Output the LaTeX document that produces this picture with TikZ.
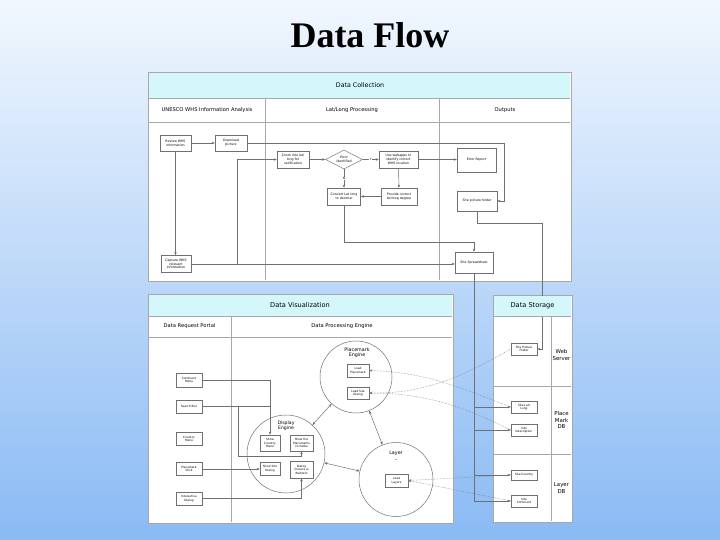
\documentclass[tikz,border=0pt]{standalone}
\usepackage{fontspec}
\setmainfont{Liberation Serif}
\newfontfamily\dfont{DejaVu Sans}
\usetikzlibrary{arrows.meta,shapes.geometric}
\definecolor{hdr}{HTML}{D3F7FA}
\definecolor{ln}{HTML}{707070}
\definecolor{frm}{HTML}{A8A8A8}
\definecolor{bgtop}{HTML}{F1F7FE}
\definecolor{bgbot}{HTML}{8ABAF4}
\begin{document}
\begin{tikzpicture}[x=1pt,y=-1pt,
  panel/.style={draw=frm, line width=0.7pt, fill=white},
  grid/.style={draw=frm, line width=0.5pt},
  box/.style={draw=ln, fill=white, line width=0.45pt, inner sep=0.3pt, align=center,
    font=\dfont\fontsize{3.2}{3.8}\selectfont},
  sbox/.style={box, font=\dfont\fontsize{2.9}{3.5}\selectfont},
  conn/.style={draw=ln, line width=0.5pt},
  arr/.style={conn, -{Stealth[length=3.2pt,width=2.6pt]}},
  darr/.style={conn, {Stealth[length=3.2pt,width=2.6pt]}-{Stealth[length=3.2pt,width=2.6pt]}},
  dotarr/.style={draw=ln!90, line width=0.5pt, densely dotted, {Stealth[length=3.2pt,width=2.6pt]}-},
  lbl/.style={font=\dfont\fontsize{3}{3.5}\selectfont, fill=white, inner sep=0.4pt},
  hd/.style={font=\dfont\fontsize{6.3}{7.5}\selectfont, align=center},
  sub/.style={font=\dfont\fontsize{5.2}{6.2}\selectfont, align=center},
  circ/.style={circle, draw=ln, line width=0.5pt, fill=white, inner sep=0}
]
\useasboundingbox (0,0) rectangle (720,540);
\fill[top color=bgtop, bottom color=bgbot] (0,0) rectangle (720,540);

\node[font=\bfseries\fontsize{36}{40}\selectfont] (title) at (370,35) {Data Flow};

% ---------- Data Collection panel ----------
\draw[panel] (148,72) rectangle (571,281);
\fill[hdr] (149,73) rectangle (570,98);
\draw[grid] (149,98) -- (570,98);
\draw[grid] (149,122) -- (570,122);
\draw[grid] (265,98) -- (265,280);
\draw[grid] (439,98) -- (439,280);
\node[hd] (hcol) at (360,85.5) {Data Collection};
\node[sub] (hc1) at (207,110) {UNESCO WHS Information Analysis};
\node[sub] (hc2) at (352,110) {Lat/Long Processing};
\node[sub] (hc3) at (505,110) {Outputs};

% ---------- Data Visualization panel ----------
\draw[panel] (148,294) rectangle (453,523);
\fill[hdr] (149,295) rectangle (452,316);
\draw[grid] (149,316) -- (452,316);
\draw[grid] (149,337) -- (452,337);
\draw[grid] (231,316) -- (231,522);
\node[hd, font=\dfont\fontsize{6.6}{7.5}\selectfont] (hvis) at (300,305.5) {Data Visualization};
\node[sub] (hv1) at (189.5,326.5) {Data Request Portal};
\node[sub] (hv2) at (342,326.5) {Data Processing Engine};

% ---------- Data Storage panel ----------
\draw[panel] (493,295) rectangle (572,522);
\draw[grid] (551,316) -- (551,521);
\draw[grid] (494,386) -- (571,386);
\draw[grid] (494,454) -- (571,454);
\node[sub, font=\dfont\fontsize{5.4}{6.6}\selectfont] (lws) at (561.5,355) {Web\\Server};
\node[sub, font=\dfont\fontsize{5.4}{6.6}\selectfont] (lpm) at (561.5,420) {Place\\Mark\\DB};
\node[sub, font=\dfont\fontsize{5.4}{6.6}\selectfont] (lly) at (561.5,488) {Layer\\DB};

% ---------- Data Collection nodes ----------
\node[box, minimum width=31, minimum height=16] (review) at (175.5,143) {Review WHS\\information};
\node[box, minimum width=32, minimum height=16] (download) at (231,143) {Download\\picture};
\node[box, minimum width=30, minimum height=17] (capture) at (176,264) {Capture WHS\\relevant\\information};
\node[box, minimum width=32, minimum height=17] (zoomv) at (293,159.5) {Zoom into lat/\\long for\\verification};
\node[box, diamond, aspect=2, inner sep=0, minimum width=37, minimum height=19] (err) at (344,159.5) {Error\\identified};
\node[box, minimum width=39, minimum height=17] (webapp) at (398.5,159.5) {Use webapps to\\identify correct\\WHS location};
\node[box, minimum width=33, minimum height=17] (convert) at (344,196.5) {Convert Lat long\\to decimal};
\node[box, minimum width=36, minimum height=17] (provide) at (399,196.5) {Provide correct\\lat/long degree};
\node[box, minimum width=39, minimum height=24] (report) at (476.5,160) {Error Report};
\node[box, minimum width=40, minimum height=20] (picfold) at (477,201) {Site picture folder};
\node[box, minimum width=38, minimum height=21] (sheet) at (474,262.5) {Site Spreadsheet};

% ---------- Data Visualization nodes ----------
\node[sbox, minimum width=26, minimum height=14] (cont) at (189,380) {Continent\\Menu};
\node[sbox, minimum width=26, minimum height=13] (search) at (189,406.5) {Search Box};
\node[sbox, minimum width=26, minimum height=13] (country) at (189,439) {Country\\Menu};
\node[sbox, minimum width=26, minimum height=13] (pclick) at (189,469) {Placemark\\Click};
\node[sbox, minimum width=26, minimum height=13] (idialog) at (189,498.5) {Interactive\\Dialog};

\node[circ, minimum size=78] (disp) at (286,454) {};
\node[circ, minimum size=72] (plm) at (356,377) {};
\node[circ, minimum size=74] (layer) at (396,479.5) {};
\node[align=center, font=\dfont\fontsize{4.6}{5.4}\selectfont] (tdisp) at (286,426) {Display\\Engine};
\node[align=center, font=\dfont\fontsize{4.8}{5.6}\selectfont] (tplm) at (357,352.5) {Placemark\\Engine};
\node[align=center, font=\dfont\fontsize{4.8}{7}\selectfont] (tlayer) at (396,456) {Layer\\–};

\node[sbox, minimum width=20, minimum height=16] (scm) at (270,443) {Show\\Country\\Menu};
\node[sbox, minimum width=23, minimum height=16] (spg) at (301.5,443) {Show the\\Placemarks\\on Globe};
\node[sbox, minimum width=20, minimum height=13] (ssd) at (270,468.5) {Show Site\\Dialog};
\node[sbox, minimum width=23, minimum height=17] (dcr) at (301.5,469.5) {Dialog\\Closure \&\\Redirect};
\node[sbox, minimum width=22, minimum height=13] (lpmk) at (358,370.5) {Load\\Placemark};
\node[sbox, minimum width=22, minimum height=12] (lsd) at (358,393) {Load Site\\Dialog};
\node[sbox, minimum width=23, minimum height=13] (ll) at (396.5,480.5) {Load\\Layers};

% ---------- Data Storage nodes ----------
\node[sbox, minimum width=26, minimum height=12] (spf) at (524,349) {Site Picture\\Folder};
\node[sbox, minimum width=26, minimum height=12] (sll) at (524,407) {Site Lat/\\Long};
\node[sbox, minimum width=26, minimum height=12] (sdesc) at (524,430) {Site\\Description};
\node[sbox, minimum width=26, minimum height=10] (scountry) at (524,475) {Site Country};
\node[sbox, minimum width=26, minimum height=12] (scont) at (524,501) {Site\\Continent};

% ---------- Data Collection connectors ----------
\coordinate (dl1) at (504,143);
\coordinate (dl2) at (504,201);
\coordinate (cz) at (237,264);
\coordinate (pf1) at (542,223);
\draw[arr] (review) -- (download);
\draw[arr] (review.south) -- (review.south |- capture.north);
\draw[arr] (download.east) -- (dl1) -- (dl2) -- (picfold.east);
\draw[arr] (capture.east) -- (capture.east -| sheet.west);
\draw[arr] (cz) |- (zoomv.west);
\draw[arr] (zoomv) -- (err);
\draw[arr] (err) -- node[lbl]{Y} (webapp);
\draw[arr] (err) -- node[lbl]{N} (convert);
\draw[arr] (webapp) -- (provide);
\draw[arr] (provide) -- (convert);
\draw[arr] (webapp.east) -- (webapp.east -| report.west);
\draw[arr] (convert.south) -- ++(0,37.5) -| (sheet.north);
\draw[arr] (picfold.south) |- (pf1) |- (spf.east);

% ---------- Spreadsheet trunk to storage ----------
\draw[conn] (sheet.south) -- (sheet.south |- scont.west);
\draw[arr] (sheet.south |- sll.west) -- (sll.west);
\draw[arr] (sheet.south |- sdesc.west) -- (sdesc.west);
\draw[arr] (sheet.south |- scountry.west) -- (scountry.west);
\draw[arr] (sheet.south |- scont.west) -- (scont.west);

% storage header drawn over the vertical line
\fill[hdr] (494,296) rectangle (571,316);
\draw[grid] (494,316) -- (571,316);
\node[hd, font=\dfont\fontsize{6.6}{7.5}\selectfont] (hsto) at (532.5,305.5) {Data Storage};

% ---------- Data Visualization connectors ----------
\coordinate (sb1) at (238,456);
\draw[arr] (cont.east) -| (scm.north);
\draw[conn] (search.east) -- (search.east -| scm.north);
\draw[arr] (search.east) -| (sb1) -| (spg.south);
\draw[arr] (pclick.east) -- (pclick.east -| ssd.west);
\draw[arr] (idialog.east) -| (dcr.south);
\draw[darr] (disp) -- (plm);
\draw[darr] (plm) -- (layer);
\draw[darr] (disp) -- (layer);

% ---------- dotted data links ----------
\draw[dotarr] (lpmk.east) .. controls (430,372) and (470,392) .. (sll.west);
\draw[dotarr] (lsd.east) .. controls (430,394) and (470,372) .. (spf.west);
\draw[dotarr] (lsd.east) .. controls (430,393) and (470,410) .. (sdesc.west);
\draw[dotarr] (ll.east) -- (scountry.west);
\draw[dotarr] (ll.east) -- (scont.west);
\end{tikzpicture}
\end{document}
